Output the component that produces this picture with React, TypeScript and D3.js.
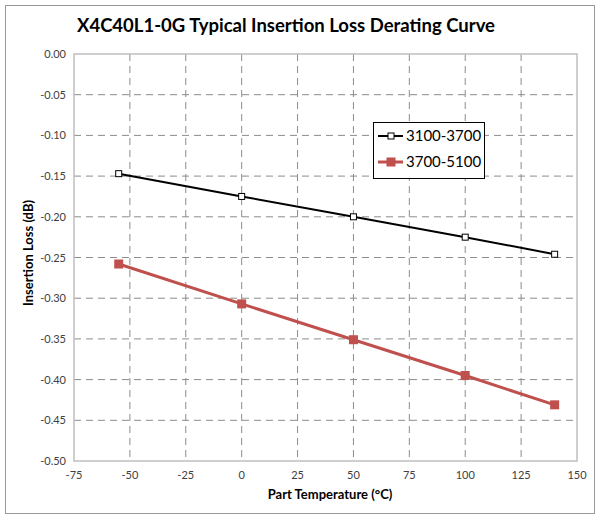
import React from "react";
import * as d3 from "d3";

const temps = [-55, 0, 50, 100, 140];
const lossLow = [-0.147, -0.175, -0.2, -0.225, -0.246];
const lossHigh = [-0.258, -0.307, -0.351, -0.395, -0.431];
const xTicks = [-75, -50, -25, 0, 25, 50, 75, 100, 125, 150];
const yTicks = [0, -0.05, -0.1, -0.15, -0.2, -0.25, -0.3, -0.35, -0.4, -0.45, -0.5];
const seriesNames = ["3100-3700", "3700-5100"];

const W = 597, H = 519;
const L = 74, R = 577, T = 54, B = 461;
const font = "Lato, 'Open Sans', sans-serif";

export default function App() {
  const x = d3.scaleLinear().domain([-75, 150]).range([L, R]);
  const y = d3.scaleLinear().domain([-0.5, 0]).range([B, T]);
  const line = d3.line<number>().x((_, i) => x(temps[i])).y((d) => y(d));

  return (
    <svg width={W} height={H} style={{ position: "absolute", left: 0, top: 0 }} fontFamily={font}>
      <rect x={0} y={0} width={W} height={H} fill="#fff" />
      <rect x={5.5} y={5.5} width={589} height={508} fill="none" stroke="#999" strokeWidth={1} />
      <text x={286} y={32} textAnchor="middle" fontSize={18.5} fontWeight="bold" fill="#000">
        X4C40L1-0G Typical Insertion Loss Derating Curve
      </text>
      {yTicks.slice(1, -1).map((t) => (
        <line key={"h" + t} x1={L} x2={R} y1={y(t)} y2={y(t)} stroke="#8c8c8c" strokeDasharray="7,5" strokeWidth={1} />
      ))}
      {xTicks.slice(1, -1).map((t) => (
        <line key={"v" + t} x1={x(t)} x2={x(t)} y1={T} y2={B} stroke="#8c8c8c" strokeDasharray="7,5" strokeWidth={1} />
      ))}
      <rect x={L} y={T} width={R - L} height={B - T} fill="none" stroke="#bfbfbf" strokeWidth={1.5} />
      {yTicks.map((t) => (
        <text key={"yl" + t} x={L - 8} y={y(t) + 4} textAnchor="end" fontSize={11} fill="#404040">
          {t.toFixed(2)}
        </text>
      ))}
      {xTicks.map((t) => (
        <text key={"xl" + t} x={x(t)} y={B + 18} textAnchor="middle" fontSize={11} fill="#404040">
          {t}
        </text>
      ))}
      <text x={330} y={499} textAnchor="middle" fontSize={13} fontWeight="bold" fill="#000">
        Part Temperature (°C)
      </text>
      <text transform={`translate(33,253) rotate(-90)`} textAnchor="middle" fontSize={13} fontWeight="bold" fill="#000">
        Insertion Loss (dB)
      </text>
      <path d={line(lossLow) || ""} fill="none" stroke="#000" strokeWidth={2} />
      {lossLow.map((v, i) => (
        <rect key={"m1" + i} x={x(temps[i]) - 3} y={y(v) - 3} width={6} height={6} fill="#fff" stroke="#000" strokeWidth={1} />
      ))}
      <path d={line(lossHigh) || ""} fill="none" stroke="#c0504d" strokeWidth={3} />
      {lossHigh.map((v, i) => (
        <rect key={"m2" + i} x={x(temps[i]) - 4.5} y={y(v) - 4.5} width={9} height={9} fill="#c0504d" />
      ))}
      <rect x={373.5} y={122.5} width={111} height={56} fill="#fff" stroke="#000" strokeWidth={1} />
      <line x1={378} x2={403} y1={136} y2={136} stroke="#000" strokeWidth={2} />
      <rect x={388} y={133} width={6} height={6} fill="#fff" stroke="#000" />
      <text x={406} y={141} fontSize={15} fill="#000">{seriesNames[0]}</text>
      <line x1={378} x2={403} y1={162} y2={162} stroke="#c0504d" strokeWidth={3} />
      <rect x={386.5} y={157.5} width={9} height={9} fill="#c0504d" />
      <text x={406} y={167} fontSize={15} fill="#000">{seriesNames[1]}</text>
    </svg>
  );
}
